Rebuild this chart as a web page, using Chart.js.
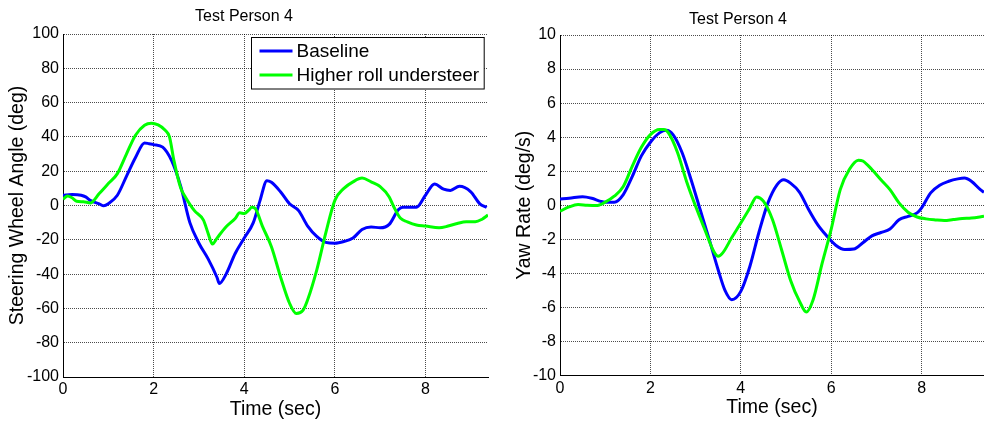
<!DOCTYPE html>
<html>
<head>
<meta charset="utf-8">
<title>Test Person 4</title>
<script src="https://cdn.jsdelivr.net/npm/chart.js@4.4.0/dist/chart.umd.min.js"></script>
<style>
  html, body { margin: 0; padding: 0; background: #fff; overflow: hidden; }
  #wrap { position: relative; width: 984px; height: 422px; }
  canvas { position: absolute; top: 0; }
  #steerChart { left: 0; }
  #yawChart { left: 492px; }
</style>
</head>
<body>
<div id="wrap">
  <canvas id="steerChart" width="492" height="422"></canvas>
  <canvas id="yawChart" width="492" height="422"></canvas>
</div>
<script>
// ---- axis ticks ----
const timeTicks = [0, 2, 4, 6, 8];
const steerTicks = [-100, -80, -60, -40, -20, 0, 20, 40, 60, 80, 100];
const yawTicks = [-10, -8, -6, -4, -2, 0, 2, 4, 6, 8, 10];

// ---- steering wheel angle (deg) ----
const steerBaseT = [0, 0.2, 0.4, 0.5, 0.6, 0.8, 0.9, 1.0, 1.2, 1.4, 1.6, 1.8, 1.9, 2.0, 2.2, 2.4, 2.6, 2.8, 3.0, 3.2, 3.4, 3.45, 3.6, 3.8, 4.0, 4.2, 4.35, 4.5, 4.6, 4.8, 5.0, 5.2, 5.4, 5.6, 5.8, 6.0, 6.2, 6.4, 6.6, 6.8, 7.0, 7.2, 7.4, 7.5, 7.8, 8.0, 8.2, 8.4, 8.55, 8.75, 9.0, 9.2, 9.35];
const steerBase  = [6, 6.4, 6, 5, 3, 1, -0.2, 1, 6, 17, 28, 36.5, 36, 35.5, 34, 26, 11, -10, -22, -31, -42, -45.5, -40, -28, -19, -10, 3, 14.5, 13.5, 8, 1, -3, -12, -18, -21.5, -22, -21, -19, -14, -12.5, -13, -11, -2.5, -1, -1, 6, 12.5, 9.5, 8.8, 11.2, 8, 1, -1.2];

const steerRollT = [0, 0.1, 0.2, 0.3, 0.45, 0.6, 0.8, 1.0, 1.2, 1.4, 1.6, 1.8, 1.95, 2.1, 2.25, 2.35, 2.45, 2.6, 2.7, 2.9, 3.1, 3.2, 3.3, 3.4, 3.6, 3.8, 3.9, 4.0, 4.1, 4.17, 4.25, 4.4, 4.6, 4.8, 5.0, 5.15, 5.3, 5.4, 5.6, 5.8, 6.0, 6.2, 6.4, 6.6, 6.8, 7.0, 7.2, 7.3, 7.45, 7.6, 7.8, 8.0, 8.3, 8.5, 8.7, 8.9, 9.1, 9.25, 9.38];
const steerRoll  = [3.7, 5.6, 4.5, 2.5, 2.2, 1.5, 7, 12.8, 18.6, 30, 41, 46.8, 48, 47, 44, 40, 26, 10, 5, -3, -8.5, -16, -22.5, -19, -12.4, -7.6, -4.3, -4.7, -2.7, -1, -2, -12, -24, -41.5, -57, -63, -61, -55, -37.7, -16, 3, 10, 13.8, 16, 13.8, 11, 5, -0.7, -7.5, -9.5, -11.4, -12, -13, -12, -10.5, -9.5, -9.5, -8, -5.6];

// ---- yaw rate (deg/s) ----
const yawBaseT = [0, 0.2, 0.5, 0.7, 0.9, 1.0, 1.2, 1.4, 1.6, 1.8, 2.0, 2.2, 2.35, 2.5, 2.7, 2.9, 3.1, 3.3, 3.5, 3.65, 3.8, 4.0, 4.2, 4.4, 4.6, 4.8, 4.95, 5.1, 5.3, 5.5, 5.7, 5.9, 6.1, 6.3, 6.5, 6.7, 6.9, 7.1, 7.3, 7.5, 7.7, 7.9, 8.0, 8.2, 8.4, 8.6, 8.8, 8.95, 9.1, 9.3, 9.38];
const yawBase  = [0.37, 0.41, 0.5, 0.41, 0.23, 0.18, 0.18, 0.63, 1.7, 2.9, 3.7, 4.25, 4.4, 4.15, 3.1, 1.5, -0.25, -2.0, -3.8, -5.0, -5.55, -5.06, -3.6, -1.6, 0.14, 1.2, 1.5, 1.3, 0.76, -0.25, -1.14, -1.8, -2.35, -2.6, -2.57, -2.2, -1.8, -1.6, -1.4, -0.85, -0.65, -0.45, -0.15, 0.73, 1.18, 1.41, 1.55, 1.6, 1.41, 0.92, 0.76];

const yawRollT = [0, 0.2, 0.4, 0.6, 0.8, 1.0, 1.2, 1.4, 1.6, 1.8, 2.0, 2.2, 2.3, 2.4, 2.6, 2.8, 3.0, 3.2, 3.4, 3.5, 3.6, 3.8, 4.0, 4.2, 4.35, 4.5, 4.7, 4.9, 5.1, 5.3, 5.45, 5.6, 5.8, 6.0, 6.2, 6.4, 6.6, 6.7, 6.9, 7.1, 7.3, 7.5, 7.7, 7.9, 8.1, 8.3, 8.5, 8.7, 8.9, 9.1, 9.38];
const yawRoll  = [-0.35, -0.1, 0.04, 0, -0.02, 0.18, 0.53, 1.1, 2.3, 3.4, 4.15, 4.45, 4.45, 4.25, 3.1, 1.4, -0.06, -1.4, -2.7, -3.0, -2.8, -1.9, -1.04, -0.16, 0.49, 0.24, -0.84, -2.6, -4.4, -5.65, -6.27, -5.55, -3.4, -1.4, 0.92, 2.1, 2.65, 2.6, 2.1, 1.5, 0.92, 0.14, -0.41, -0.69, -0.8, -0.86, -0.9, -0.84, -0.78, -0.75, -0.65];

const FONT = '"Liberation Sans", Arial, Helvetica, sans-serif';
const BLUE = 'rgb(0, 0, 255)';
const GREEN = 'rgb(0, 255, 0)';
const GRID = 'rgba(0, 0, 0, 0.7)';

function pairs(t, v) {
  return t.map((x, i) => ({ x, y: v[i] }));
}

// legend box drawn inside the plot area (top right corner)
const boxLegend = {
  id: 'boxLegend',
  afterDatasetsDraw(chart, args, opts) {
    if (!opts.show) return;
    const { ctx, chartArea } = chart;
    const sets = chart.data.datasets;
    ctx.save();
    ctx.font = '19px ' + FONT;
    let textW = 0;
    sets.forEach((d) => { textW = Math.max(textW, ctx.measureText(d.label).width); });
    const lineLen = 33, padL = 8, gap = 4, padR = 5, rowH = 24;
    const w = padL + lineLen + gap + textW + padR;
    const h = 51.5;
    const right = chartArea.right - 4;
    const x0 = Math.round(right - w) + 0.5;
    const y0 = Math.round(chartArea.top + 2.5) + 0.5;
    ctx.fillStyle = '#fff';
    ctx.fillRect(x0, y0, w, h);
    ctx.strokeStyle = '#000';
    ctx.lineWidth = 1;
    ctx.strokeRect(x0, y0, w, h);
    ctx.textBaseline = 'middle';
    ctx.textAlign = 'left';
    sets.forEach((d, i) => {
      const cy = y0 + 13.5 + i * rowH;
      ctx.strokeStyle = d.borderColor;
      ctx.lineWidth = 3;
      ctx.beginPath();
      ctx.moveTo(x0 + padL, cy);
      ctx.lineTo(x0 + padL + lineLen, cy);
      ctx.stroke();
      ctx.fillStyle = '#000';
      ctx.fillText(d.label, x0 + padL + lineLen + gap, cy + 1);
    });
    ctx.restore();
  }
};

function makeChart(id, cfg) {
  const ctx = document.getElementById(id).getContext('2d');
  return new Chart(ctx, {
    type: 'line',
    data: {
      datasets: [
        {
          label: 'Baseline',
          data: pairs(cfg.baseT, cfg.base),
          borderColor: BLUE,
          borderWidth: 3,
          pointRadius: 0,
          cubicInterpolationMode: 'monotone',
          order: 1,
        },
        {
          label: 'Higher roll understeer',
          data: pairs(cfg.rollT, cfg.roll),
          borderColor: GREEN,
          borderWidth: 3,
          pointRadius: 0,
          cubicInterpolationMode: 'monotone',
          order: 0,
        },
      ],
    },
    options: {
      responsive: false,
      animation: false,
      events: [],
      layout: { padding: { left: 0, right: cfg.padRight, top: 0, bottom: 0 } },
      plugins: {
        legend: { display: false },
        tooltip: { enabled: false },
        title: {
          display: true,
          text: 'Test Person 4',
          color: '#000',
          font: { family: FONT, size: 16, weight: 'normal', lineHeight: 1.2 },
          padding: { top: cfg.titlePad[0], bottom: cfg.titlePad[1] },
        },
        boxLegend: { show: cfg.legend },
      },
      scales: {
        x: {
          type: 'linear',
          min: 0,
          max: 9.38,
          afterBuildTicks: (s) => { s.ticks = timeTicks.map((v) => ({ value: v })); },
          afterFit: (s) => { s.height = cfg.xHeight; },
          ticks: {
            color: '#000',
            padding: cfg.xTickPad,
            maxRotation: 0,
            font: { family: FONT, size: 16, lineHeight: 1 },
          },
          grid: { color: GRID, lineWidth: 1, drawTicks: false },
          border: { display: true, color: '#000', width: 1, dash: [1, 1] },
          title: {
            display: true,
            text: 'Time (sec)',
            color: '#000',
            font: { family: FONT, size: 19.5, lineHeight: 1 },
            padding: { top: 0, bottom: cfg.xTitlePad },
          },
        },
        y: {
          type: 'linear',
          min: cfg.yTicks[0],
          max: cfg.yTicks[cfg.yTicks.length - 1],
          afterBuildTicks: (s) => { s.ticks = cfg.yTicks.map((v) => ({ value: v })); },
          afterFit: (s) => { s.width = cfg.yWidth; },
          ticks: {
            color: '#000',
            padding: 4,
            font: { family: FONT, size: 16, lineHeight: 1 },
          },
          grid: { color: GRID, lineWidth: 1, drawTicks: false },
          border: { display: true, color: '#000', width: 1, dash: [1, 1] },
          title: {
            display: true,
            text: cfg.yTitle,
            color: '#000',
            font: { family: FONT, size: 19.5, lineHeight: 1 },
            padding: { top: cfg.yTitlePad, bottom: 0 },
          },
        },
      },
    },
    plugins: [boxLegend],
  });
}

makeChart('steerChart', {
  baseT: steerBaseT, base: steerBase,
  rollT: steerRollT, roll: steerRoll,
  yTicks: steerTicks,
  yTitle: 'Steering Wheel Angle (deg)',
  yWidth: 63, yTitlePad: 7.5,
  xHeight: 45, xTickPad: 5, xTitlePad: 2.5,
  titlePad: [7, 7.8], padRight: 4,
  legend: true,
});

makeChart('yawChart', {
  baseT: yawBaseT, base: yawBase,
  rollT: yawRollT, roll: yawRoll,
  yTicks: yawTicks,
  yTitle: 'Yaw Rate (deg/s)',
  yWidth: 68, yTitlePad: 23,
  xHeight: 46.5, xTickPad: 5, xTitlePad: 4.5,
  titlePad: [9.5, 6.3], padRight: 0,
  legend: false,
});
</script>
</body>
</html>
